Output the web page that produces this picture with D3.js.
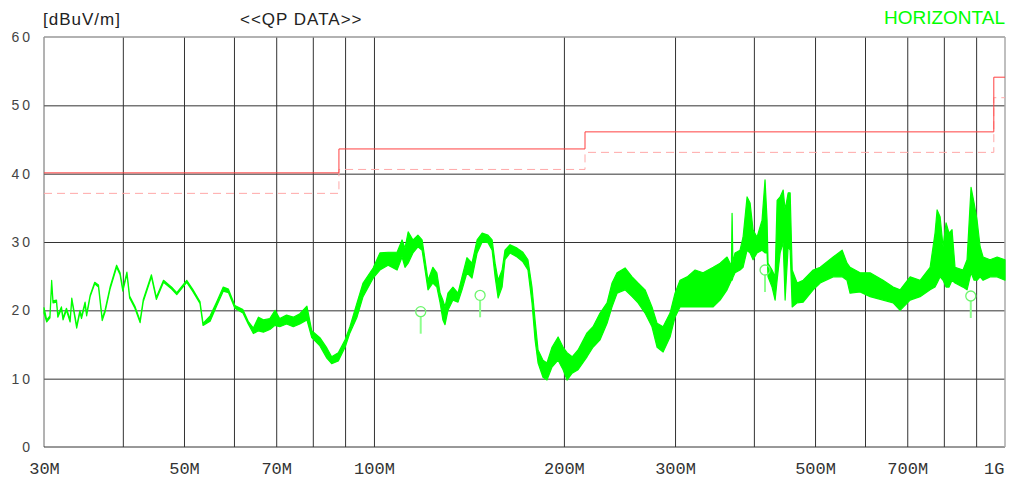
<!DOCTYPE html>
<html>
<head>
<meta charset="utf-8">
<script src="https://cdn.jsdelivr.net/npm/d3@7"></script>
<style>
  body { margin: 0; background: #fff; }
  svg { display: block; }
  .grid line { stroke: #333; stroke-width: 1; }
  .grid path { display: none; }
  .xlab path, .ylab path { display: none; }
  .xlab text { font-family: "Liberation Mono", monospace; font-size: 17px; fill: #333; }
  .ylab text { font-family: "Liberation Sans", Arial, sans-serif; font-size: 14px; fill: #444; letter-spacing: 3px; }
  .title { font-family: "Liberation Sans", Arial, sans-serif; font-size: 17px; fill: #222; letter-spacing: 1px; }
</style>
</head>
<body>
<div id="chart"></div>
<script>
// ---- data ----
// measured trace, MHz / dBuV/m (lo..hi envelope of the sweep)
const freqMHz = [30.0,30.3,30.66,30.85,31.0,31.4,31.55,31.97,32.16,32.56,33.0,33.2,33.6,33.8,34.2,34.4,34.85,35.05,35.5,36.1,36.6,37.1,37.5,38.2,39.1,39.6,40.0,40.6,41.0,41.8,42.6,43.1,44.4,45.2,46.4,47.8,48.7,50.5,51.6,53.0,53.6,55.0,56.3,57.7,58.8,60.2,62.0,63.2,64.4,65.6,66.8,68.4,69.7,70.9,72.7,74.5,76.3,78.3,79.7,82.1,84.2,85.7,87.8,
  90.0,91.6,94.0,96.1,99.7,102.2,105.3,108.8,110.8,112.0,113.3,115.3,117.4,119.2,120.5,121.8,124.0,125.8,127.3,128.6,129.6,131.0,133.4,135.9,137.9,140.4,143.0,145.7,148.4,151.6,153.9,155.6,157.3,159.6,161.3,164.3,168.6,172.2,175.4,178.0,180.0,182.0,185.3,188.0,191.5,195.8,199.4,
  202.3,206.1,210.6,217.6,222.4,228.2,234.1,238.4,242.8,250.0,256.5,262.1,268.9,275.8,281.0,287.2,294.6,300.0,305.5,313.6,322.8,332.3,344.8,353.6,
  362.7,368.5,369.4,370.5,373.4,380.3,384.5,390.2,394.5,398.8,404.6,412.1,416.6,419.7,421.2,427.4,432.2,435.4,440.2,445.1,448.3,453.3,456.6,460.0,468.4,478.8,496.6,509.5,534.1,552.0,561.9,568.2,589.4,
  611.2,640.9,664.9,682.0,707.4,733.6,760.9,774.7,780.6,789.1,797.8,806.5,815.4,824.3,833.3,858.0,870.7,883.5,893.4,903.1,913.2,923.2,947.1,971.7,1000];
const levelLo = [19.6,18.3,18.9,24.0,21.1,21.2,19.0,20.2,18.6,20.0,18.3,21.5,18.8,17.4,19.7,18.8,20.9,19.2,22.0,23.9,23.4,18.5,19.8,23.2,26.3,25.2,22.8,25.3,21.8,20.3,18.2,21.3,24.9,21.6,24.1,23.1,22.3,24.1,22.8,21.0,17.8,18.4,20.6,22.8,22.6,20.3,19.6,18.0,16.6,17.0,16.8,17.2,17.8,17.6,18.0,17.6,18.0,18.6,16.0,14.8,13.0,12.2,12.6,
  14.6,16.7,19.0,22.0,24.7,25.9,26.6,25.9,27.8,26.3,26.9,28.4,29.3,28.8,25.9,23.0,24.0,23.4,21.1,18.6,17.9,20.0,21.5,21.2,23.0,25.5,24.7,28.4,30.0,29.9,28.8,24.9,21.8,23.4,27.4,28.4,27.8,27.1,25.9,21.1,15.7,12.3,10.2,9.8,11.7,12.7,11.3,
  9.8,10.8,11.3,13.2,14.6,15.7,18.1,20.5,22.5,23.0,22.0,21.1,19.6,17.6,14.6,13.9,16.1,19.0,20.5,20.5,20.5,20.5,20.5,21.5,
  23.0,24.4,24.4,24.8,25.5,25.9,26.3,28.8,28.4,27.4,28.4,28.8,28.4,28.4,24.9,23.4,21.5,24.4,28.4,29.9,21.5,29.3,28.8,20.5,21.1,21.2,23.0,24.0,24.9,24.9,24.4,22.5,22.7,
  22.0,21.5,21.1,20.0,21.5,22.0,23.0,23.4,24.0,24.9,24.4,23.4,23.4,24.4,24.0,23.4,23.0,25.5,24.4,24.4,24.9,24.4,24.9,24.9,24.4];
const levelHi = [20.4,18.6,19.2,24.4,21.4,21.5,19.3,20.5,18.9,20.3,18.6,21.8,19.1,17.7,20.0,19.1,21.2,19.5,22.2,24.1,23.7,18.8,20.1,23.5,26.6,25.5,23.1,25.6,22.1,20.6,18.5,21.6,25.2,21.9,24.4,23.4,22.6,24.4,23.1,21.3,18.1,19.2,21.2,23.4,23.1,20.7,20.1,18.4,17.4,19.0,18.6,18.8,20.0,18.8,19.3,19.0,19.5,20.6,17.0,16.0,14.5,13.2,13.8,
  15.7,17.6,21.1,24.0,26.2,28.4,28.5,28.5,30.3,29.1,31.5,30.3,31.0,30.3,27.4,24.4,26.3,25.5,22.5,21.5,20.5,22.5,23.4,22.5,24.9,27.7,26.9,30.3,31.3,31.0,30.3,26.9,24.4,25.9,28.8,29.6,29.1,28.5,27.4,23.4,18.6,14.2,12.7,12.3,14.6,16.1,14.6,
  13.8,13.2,14.2,16.7,17.6,19.6,21.1,24.0,25.5,26.2,24.9,24.0,23.0,20.5,18.1,17.6,19.6,22.5,24.4,24.9,25.9,25.5,26.3,26.9,
  27.8,26.5,34.2,27.0,28.4,28.8,30.7,36.6,35.7,31.8,30.7,33.2,39.1,33.2,26.9,25.9,24.9,36.1,36.6,37.6,34.7,37.2,37.2,25.9,24.0,24.4,25.9,26.3,27.8,28.8,26.9,26.3,25.5,
  25.5,24.4,23.4,23.0,24.9,24.4,26.3,31.3,34.7,33.7,29.3,32.8,31.3,31.8,26.3,25.9,27.4,38.0,35.7,33.2,29.3,27.8,27.4,27.8,27.4];

// limit lines (step after each frequency)
const limitFreq = [30, 88, 216, 960, 1000];
const limitQP = [40, 43.5, 46, 54, 54];
const marginQP = [37, 40.5, 43, 51, 51];

// QP readings
const qpFreq = [118.6, 147.3, 416.6, 882.6];
const qpLevel = [19.8, 22.2, 25.9, 22.1];

// axes
const gridFreq = [40, 50, 60, 70, 80, 90, 100, 200, 300, 400, 500, 600, 700, 800, 900];
const xTickFreq = [30, 50, 70, 100, 200, 300, 500, 700, 1000];
const xTickLabels = ["30M", "50M", "70M", "100M", "200M", "300M", "500M", "700M", "1G"];
const yTicks = [0, 10, 20, 30, 40, 50, 60];

// ---- drawing ----
const width = 1010, height = 479;
const margins = { top: 37, bottom: 32, left: 44, right: 5 };

const xScale = d3.scaleLog()
  .domain([30, 1000])
  .range([margins.left, width - margins.right]);

const yScale = d3.scaleLinear()
  .domain([0, 60])
  .range([height - margins.bottom, margins.top]);

const svg = d3.select("#chart")
  .append("svg")
  .attr("width", width)
  .attr("height", height);

const plotH = height - margins.bottom - margins.top;
const plotW = width - margins.right - margins.left;

// vertical grid
svg.append("g")
  .attr("class", "grid")
  .attr("transform", `translate(0, ${height - margins.bottom})`)
  .call(d3.axisBottom(xScale).tickValues(gridFreq).tickSize(-plotH).tickFormat(""));

// horizontal grid
svg.append("g")
  .attr("class", "grid")
  .attr("transform", `translate(${margins.left}, 0)`)
  .call(d3.axisLeft(yScale).tickValues(yTicks.slice(1, -1)).tickSize(-plotW).tickFormat(""));

// frame
svg.append("line")
  .attr("x1", margins.left).attr("x2", margins.left)
  .attr("y1", margins.top).attr("y2", height - margins.bottom)
  .attr("stroke", "#666");
svg.append("line")
  .attr("x1", margins.left).attr("x2", width - margins.right)
  .attr("y1", height - margins.bottom).attr("y2", height - margins.bottom)
  .attr("stroke", "#333");
svg.append("line")
  .attr("x1", margins.left).attr("x2", width - margins.right)
  .attr("y1", margins.top).attr("y2", margins.top)
  .attr("stroke", "#999").attr("stroke-width", 1.5);
svg.append("line")
  .attr("x1", width - margins.right).attr("x2", width - margins.right)
  .attr("y1", margins.top).attr("y2", height - margins.bottom)
  .attr("stroke", "#aaa").attr("stroke-width", 1.5);

// x labels
const xLab = svg.append("g")
  .attr("class", "xlab")
  .attr("transform", `translate(0, ${height - margins.bottom})`)
  .call(d3.axisBottom(xScale).tickValues(xTickFreq).tickSize(0).tickPadding(15)
    .tickFormat((d, i) => xTickLabels[i]));
xLab.selectAll(".tick text")
  .filter(d => d === 1000)
  .attr("text-anchor", "end")
  .attr("dx", "-1");

// y labels
svg.append("g")
  .attr("class", "ylab")
  .attr("transform", `translate(${margins.left - 11}, 0)`)
  .call(d3.axisLeft(yScale).tickValues(yTicks).tickSize(0).tickPadding(0));

// limit lines, nudged up a pixel so they sit just above the grid
const stepLine = d3.line()
  .x((d, i) => xScale(limitFreq[i]))
  .y(d => yScale(d))
  .curve(d3.curveStepAfter);

const limits = svg.append("g").attr("transform", "translate(0, -0.8)");

limits.append("path")
  .datum(marginQP)
  .attr("d", stepLine)
  .attr("fill", "none")
  .attr("stroke", "#ffa8a8")
  .attr("stroke-width", 1)
  .attr("stroke-dasharray", "8,5");

limits.append("path")
  .datum(limitQP)
  .attr("d", stepLine)
  .attr("fill", "none")
  .attr("stroke", "#ff4040")
  .attr("stroke-width", 1);

// measured trace
const trace = freqMHz.map((f, i) => ({ f: f, lo: levelLo[i], hi: levelHi[i] }));

const area = d3.area()
  .x(d => xScale(d.f))
  .y0(d => yScale(d.lo))
  .y1(d => yScale(d.hi));

svg.append("path")
  .datum(trace)
  .attr("d", area)
  .attr("fill", "#00ff00")
  .attr("stroke", "#00ff00")
  .attr("stroke-width", 1.2)
  .attr("stroke-linejoin", "round");

// QP markers
const qp = qpFreq.map((f, i) => ({ f: f, v: qpLevel[i] }));
const marks = svg.selectAll(".qp")
  .data(qp)
  .join("g")
  .attr("class", "qp")
  .attr("transform", d => `translate(${xScale(d.f)}, ${yScale(d.v)})`);

marks.append("line")
  .attr("y1", 5).attr("y2", 22)
  .attr("stroke", "#8cff8c")
  .attr("stroke-width", 2);

marks.append("circle")
  .attr("r", 5)
  .attr("fill", "none")
  .attr("stroke", "#6cf56c")
  .attr("stroke-width", 1.3);

// titles
svg.append("text").attr("class", "title")
  .attr("x", 43).attr("y", 25).text("[dBuV/m]");
svg.append("text").attr("class", "title")
  .attr("x", 240).attr("y", 25).text("<<QP DATA>>");
svg.append("text")
  .attr("x", 1005).attr("y", 24)
  .attr("text-anchor", "end")
  .style("font-family", "Liberation Sans, Arial, sans-serif")
  .style("font-size", "19px")
  .attr("fill", "#00ff00")
  .text("HORIZONTAL");
</script>
</body>
</html>
